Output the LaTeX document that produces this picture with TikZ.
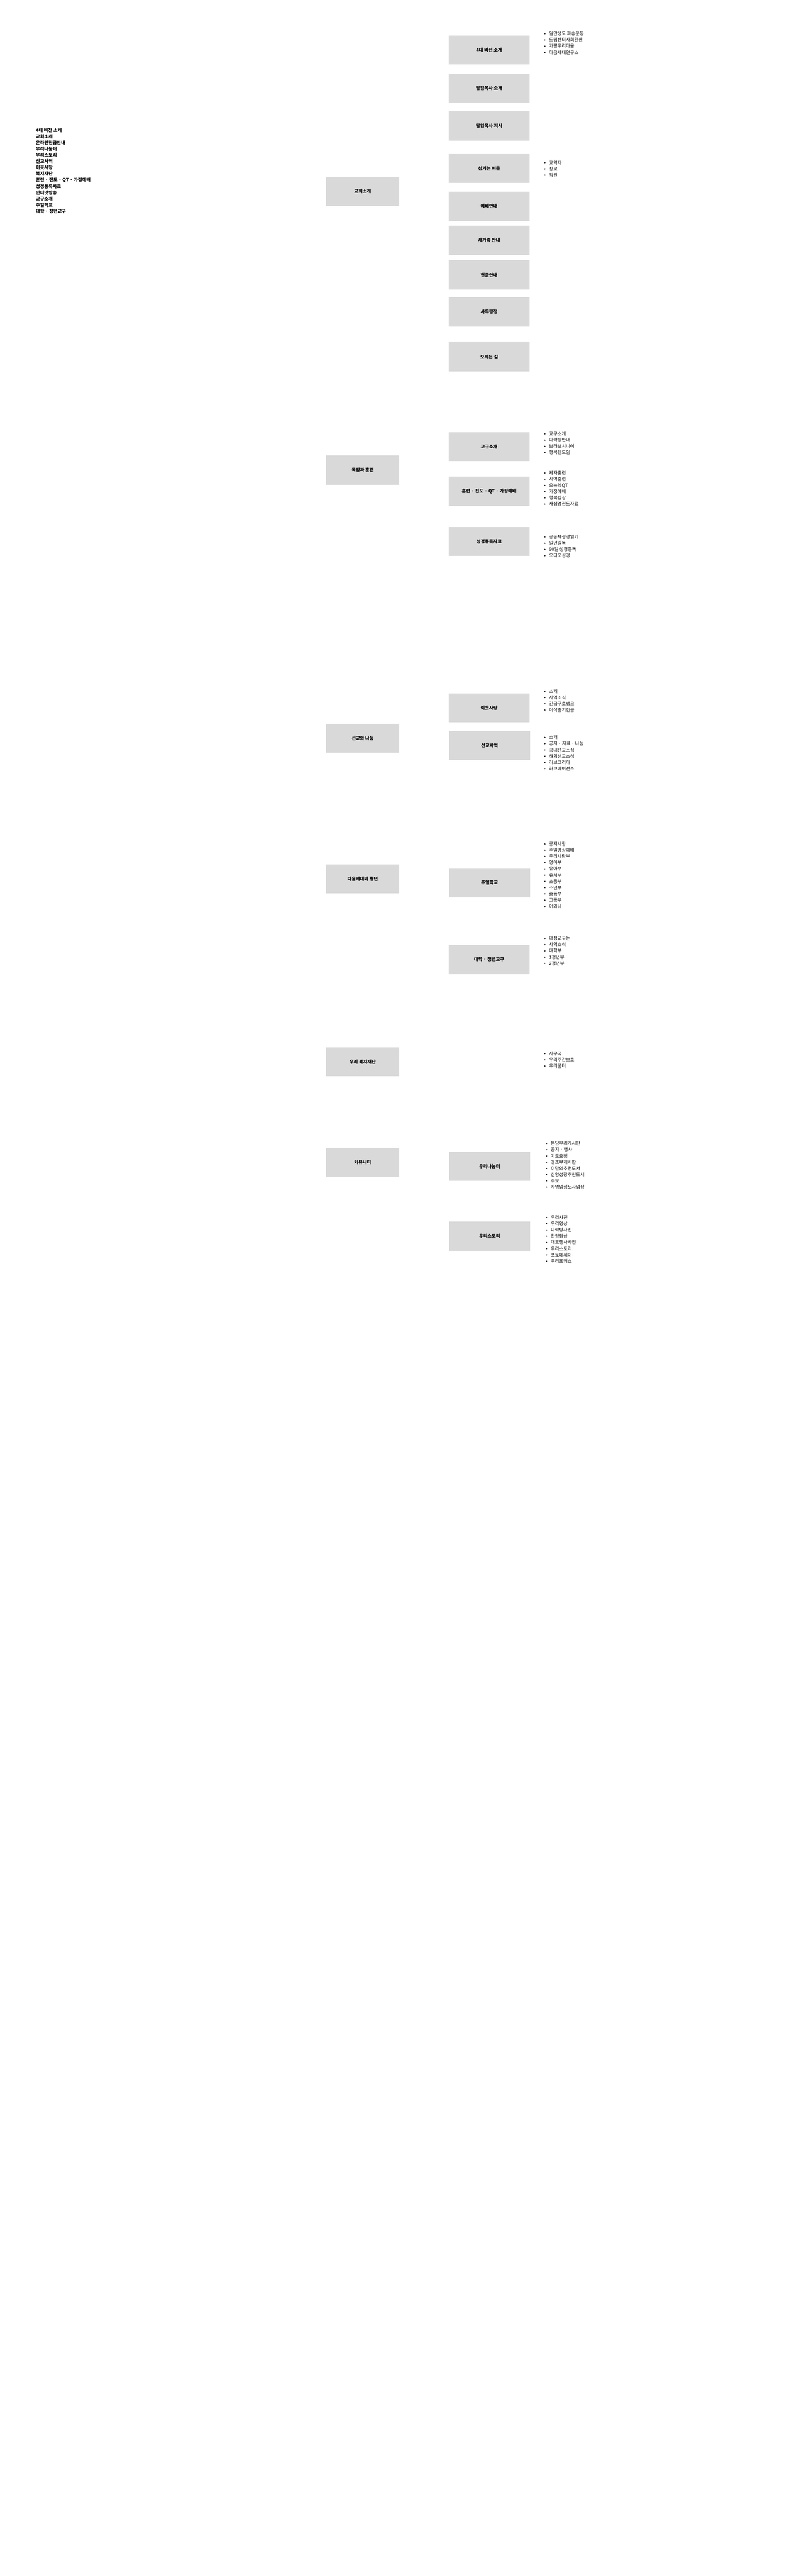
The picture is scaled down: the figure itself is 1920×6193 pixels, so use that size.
\documentclass[tikz,border=0pt]{standalone}
\usepackage{fontspec}
\setmainfont{Noto Sans CJK KR}
\definecolor{boxgray}{HTML}{D9D9D9}
\tikzset{
  box/.style={fill=boxgray, minimum width=194pt, minimum height=70pt, inner sep=0pt,
    font=\bfseries\fontsize{11}{13}\selectfont},
  mbox/.style={box, minimum width=176pt},
  item/.style={anchor=west, inner sep=0pt, font=\fontsize{11}{13}\selectfont},
  navitem/.style={anchor=west, inner sep=0pt, font=\bfseries\fontsize{11}{13}\selectfont},
  dot/.style={circle, fill=black, inner sep=0pt, minimum size=3pt}
}
% #1 name prefix, #2 bullet x, #3 first line y, #4 items
\newcommand{\blist}[4]{%
  \foreach \t [count=\i from 0] in {#4} {
    \node[dot] (#1d\i) at (#2, #3+15*\i) {};
    \node[item] (#1t\i) at (#2+10, #3+15*\i) {\t};
  }%
}
\begin{document}
\begin{tikzpicture}[x=1pt,y=-1pt]
\useasboundingbox (0,0) rectangle (1920,6193);
\fill[white] (0,0) rectangle (1920,6193);

% left navigation list
\foreach \t [count=\i from 0] in {4대 비전 소개, 교회소개, 온라인헌금안내, 우리나눔터, 우리스토리,
  선교사역, 이웃사랑, 복지재단, 훈련 · 전도 · QT · 가정예배, 성경통독자료, 인터넷방송,
  교구소개, 주일학교, 대학 · 청년교구} {
  \node[navitem] (nav\i) at (86, 313+15*\i) {\t};
}

% middle column
\node[mbox] (m1) at (872, 460) {교회소개};
\node[mbox] (m2) at (872, 1130) {목양과 훈련};
\node[mbox] (m3) at (872, 1775) {선교와 나눔};
\node[mbox] (m4) at (872, 2113) {다음세대와 청년};
\node[mbox] (m5) at (872, 2553) {우리 복지재단};
\node[mbox] (m6) at (872, 2794) {커뮤니티};

% right column: 교회소개
\node[box] (r1) at (1176, 120) {4대 비전 소개};
\node[box] (r2) at (1176, 212) {담임목사 소개};
\node[box] (r3) at (1176, 303) {담임목사 저서};
\node[box] (r4) at (1176, 405) {섬기는 이들};
\node[box] (r5) at (1176, 496) {예배안내};
\node[box] (r6) at (1176, 578) {새가족 안내};
\node[box] (r7) at (1176, 661) {헌금안내};
\node[box] (r8) at (1176, 750) {사무행정};
\node[box] (r9) at (1176, 858) {오시는 길};

% 목양과 훈련
\node[box] (r10) at (1176, 1074) {교구소개};
\node[box] (r11) at (1176, 1181) {훈련 · 전도 · QT · 가정예배};
\node[box] (r12) at (1176, 1302) {성경통독자료};

% 선교와 나눔
\node[box] (r13) at (1176, 1702) {이웃사랑};
\node[box] (r14) at (1177, 1792) {선교사역};

% 다음세대와 청년
\node[box] (r15) at (1177, 2122) {주일학교};
\node[box] (r16) at (1176, 2307) {대학 · 청년교구};

% 커뮤니티
\node[box] (r17) at (1177, 2804) {우리나눔터};
\node[box] (r18) at (1177, 2972) {우리스토리};

% bullet lists
\blist{a}{1310}{81}{일만성도 파송운동, 드림센터사회환원, 가평우리마을, 다음세대연구소}
\blist{b}{1310}{391}{교역자, 장로, 직원}
\blist{c}{1310}{1043}{교구소개, 다락방안내, 브라보시니어, 행복한모임}
\blist{e}{1310}{1137}{제자훈련, 사역훈련, 오늘의QT, 가정예배, 행복밥상, 새생명전도자료}
\blist{f}{1310}{1291}{공동체성경읽기, 일년일독, 90일 성경통독, 오디오성경}
\blist{g}{1310}{1662}{소개, 사역소식, 긴급구호뱅크, 이삭줍기헌금}
\blist{h}{1310}{1773}{소개, 공지 · 자료 · 나눔, 국내선교소식, 해외선교소식, 러브코리아, 러브네이션스}
\blist{k}{1310}{2029}{공지사항, 주일영상예배, 우리사랑부, 영아부, 유아부, 유치부, 초등부, 소년부, 중등부, 고등부, 어와나}
\blist{l}{1310}{2256}{대청교구는, 사역소식, 대학부, 1청년부, 2청년부}
\blist{n}{1310}{2533}{사무국, 우리주간보호, 우리꿈터}
\blist{p}{1314}{2749}{분당우리게시판, 공지 · 행사, 기도요청, 경조부게시판, 이달의추천도서, 신앙성장추천도서, 주보, 자영업성도사업장}
\blist{q}{1314}{2927}{우리사진, 우리영상, 다락방사진, 찬양영상, 대표행사사진, 우리스토리, 포토에세이, 우리포커스}
\end{tikzpicture}
\end{document}
